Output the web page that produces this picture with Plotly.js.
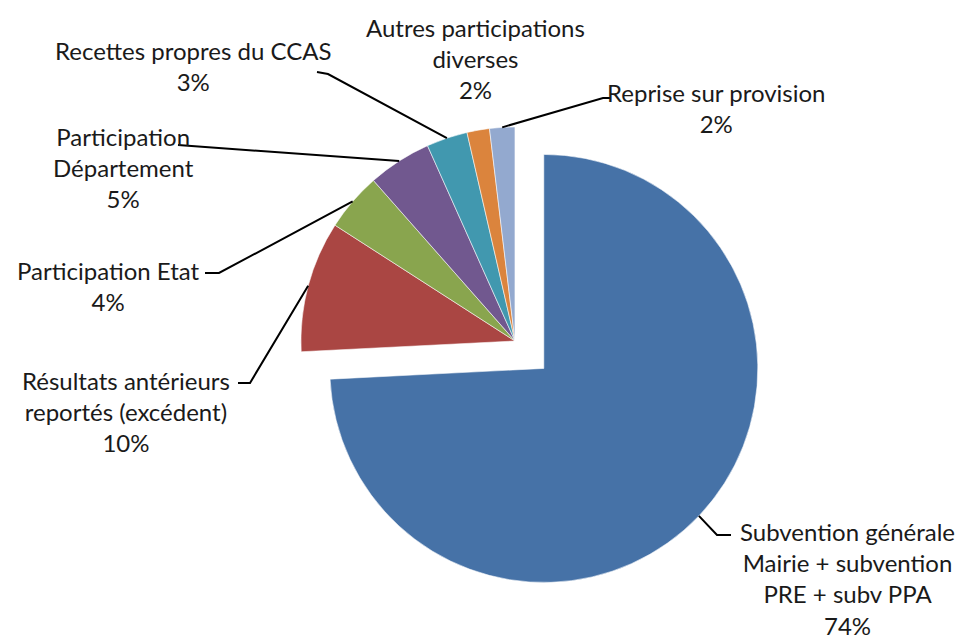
<!DOCTYPE html>
<html>
<head>
<meta charset="utf-8">
<script src="https://cdn.plot.ly/plotly-3.0.1.min.js"></script>
<style>
  html, body { margin: 0; padding: 0; background: #ffffff; }
  #chart { width: 962px; height: 640px; }
</style>
</head>
<body>
<div id="chart"></div>
<script>
// ---- data ----
const categories = [
  'Subvention générale Mairie + subvention PRE + subv PPA',
  'Résultats antérieurs reportés (excédent)',
  'Participation Etat',
  'Participation Département',
  'Recettes propres du CCAS',
  'Autres participations diverses',
  'Reprise sur provision'
];
const values = [74.2, 9.9, 4.4, 4.8, 3.1, 1.7, 1.9];
const labelText = [
  'Subvention générale<br>Mairie + subvention<br>PRE + subv PPA',
  'Résultats antérieurs<br>reportés (excédent)',
  'Participation Etat',
  'Participation<br>Département',
  'Recettes propres du CCAS',
  'Autres participations<br>diverses',
  'Reprise sur provision'
];

// ---- style / layout ----
const colors = ['#4672A7', '#AA4643', '#89A54E', '#71588F', '#4198AF', '#DB843D', '#93A9CF'];
const pulls = [0.186, 0, 0, 0, 0, 0, 0];
const W = 962, H = 640;
const domX = [0.2, 0.8706], domY = [0.0706, 0.8638];
// label block centres (px)
const labelPos = [[847, 578], [126, 411], [108, 286], [123, 168], [193, 66], [475, 59], [716, 108]];
// leader line elbow + end points (px); null = no leader
const leaders = [
  [[717, 535], [731, 535]],
  [[250, 383], [238, 383]],
  [[219, 273], [205, 273]],
  [[178, 145]],
  [[328, 74], [317, 72]],
  null,
  [[603, 98], [610, 98]]
];
const FONT = 'Lato, "Open Sans", sans-serif';

const total = values.reduce((a, b) => a + b, 0);
const boxW = W * (domX[1] - domX[0]);
const boxH = H * (domY[1] - domY[0]);
const maxPull = Math.max.apply(null, pulls);
const R = Math.min(boxW, boxH) / (2 + 2 * maxPull);
const CX = W * (domX[0] + domX[1]) / 2;
const CY = H * (1 - (domY[0] + domY[1]) / 2);

const px2x = p => p / W;
const px2y = p => 1 - p / H;

const annotations = [];
const shapes = [];
let cum = 0;
values.forEach((v, i) => {
  const a0 = cum / total * 2 * Math.PI;
  cum += v;
  const a1 = cum / total * 2 * Math.PI;
  const mid = (a0 + a1) / 2;
  const sx = Math.sin(mid), sy = -Math.cos(mid);
  const ox = CX + pulls[i] * R * sx, oy = CY + pulls[i] * R * sy;
  const hx = ox + R * sx, hy = oy + R * sy;
  const pct = Math.round(v / total * 100) + '%';
  annotations.push({
    xref: 'paper', yref: 'paper',
    x: px2x(labelPos[i][0]), y: px2y(labelPos[i][1]),
    xanchor: 'center', yanchor: 'middle', align: 'center',
    text: labelText[i] + '<br>' + pct,
    showarrow: false,
    font: { family: FONT, size: 24, color: '#1a1a1a' }
  });
  if (leaders[i]) {
    let path = 'M ' + px2x(hx) + ' ' + px2y(hy);
    leaders[i].forEach(p => { path += ' L ' + px2x(p[0]) + ' ' + px2y(p[1]); });
    shapes.push({
      type: 'path', xref: 'paper', yref: 'paper', path: path,
      line: { color: '#000000', width: 2 }
    });
  }
});

const trace = {
  type: 'pie',
  labels: categories,
  values: values,
  sort: false,
  direction: 'clockwise',
  rotation: 0,
  pull: pulls,
  marker: { colors: colors, line: { color: 'rgba(255,255,255,0.55)', width: 1 } },
  textinfo: 'none',
  hoverinfo: 'label+percent',
  domain: { x: domX, y: domY },
  showlegend: false
};

const layout = {
  width: W, height: H,
  margin: { l: 0, r: 0, t: 0, b: 0 },
  paper_bgcolor: '#ffffff',
  plot_bgcolor: '#ffffff',
  showlegend: false,
  annotations: annotations,
  shapes: shapes,
  font: { family: FONT }
};

Plotly.newPlot('chart', [trace], layout, { displayModeBar: false, staticPlot: true });
</script>
</body>
</html>
